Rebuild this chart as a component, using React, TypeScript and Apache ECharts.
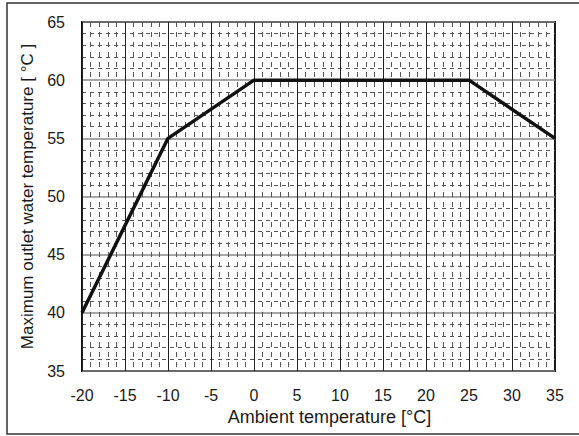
import React, { useEffect, useRef } from "react";
import * as echarts from "echarts";

const ambientTemps = [-20, -10, 0, 25, 35];
const maxOutletTemps = [40, 55, 60, 60, 55];
const xTicks = [-20, -15, -10, -5, 0, 5, 10, 15, 20, 25, 30, 35];
const yTicks = [35, 40, 45, 50, 55, 60, 65];

export default function App() {
  const ref = useRef<HTMLDivElement>(null);
  useEffect(() => {
    if (!ref.current) return;
    const chart = echarts.init(ref.current, null, { renderer: "svg" });
    const font = "'Liberation Sans', Arial, sans-serif";
    chart.setOption({
      animation: false,
      backgroundColor: "#ffffff",
      graphic: [
        {
          type: "rect",
          shape: { x: 7, y: 3, width: 600, height: 431 },
          style: { fill: "none", stroke: "#333", lineWidth: 1.5 },
          z: -1,
        },
      ],
      grid: {
        left: 82,
        right: 24,
        top: 22,
        bottom: 65,
        show: true,
        borderColor: "#111",
        borderWidth: 2,
        backgroundColor: "transparent",
      },
      xAxis: {
        type: "value",
        min: xTicks[0],
        max: xTicks[xTicks.length - 1],
        interval: 5,
        name: "Ambient temperature [°C]",
        nameLocation: "middle",
        nameGap: 35,
        nameTextStyle: {
          fontSize: 18,
          color: "#1a1a1a",
          fontFamily: font,
          padding: [0, 0, 0, 22],
        },
        axisLine: { show: false },
        axisTick: { show: false },
        axisLabel: { fontSize: 16, color: "#1a1a1a", fontFamily: font, margin: 16 },
        splitLine: { show: true, lineStyle: { color: "#222", width: 1 } },
        minorTick: { show: false, splitNumber: 5 },
        minorSplitLine: { show: true, lineStyle: { color: "#555", width: 1, type: [5, 5] } },
      },
      yAxis: {
        type: "value",
        min: yTicks[0],
        max: yTicks[yTicks.length - 1],
        interval: 5,
        name: "Maximum outlet water temperature [ °C ]",
        nameLocation: "middle",
        nameGap: 45,
        nameTextStyle: { fontSize: 17, color: "#1a1a1a", fontFamily: font },
        axisLine: { show: false },
        axisTick: { show: false },
        axisLabel: { fontSize: 16, color: "#1a1a1a", fontFamily: font, margin: 17 },
        splitLine: { show: true, lineStyle: { color: "#888", width: 1.5 } },
        minorTick: { show: false, splitNumber: 5 },
        minorSplitLine: { show: true, lineStyle: { color: "#555", width: 1, type: [4, 4] } },
      },
      series: [
        {
          type: "line",
          data: ambientTemps.map((x, i) => [x, maxOutletTemps[i]]),
          symbol: "none",
          lineStyle: { color: "#111", width: 3.5 },
          z: 5,
        },
      ],
    });
    return () => chart.dispose();
  }, []);
  return (
    <div
      ref={ref}
      style={{ position: "fixed", left: 0, top: 0, width: 579, height: 436 }}
    />
  );
}
